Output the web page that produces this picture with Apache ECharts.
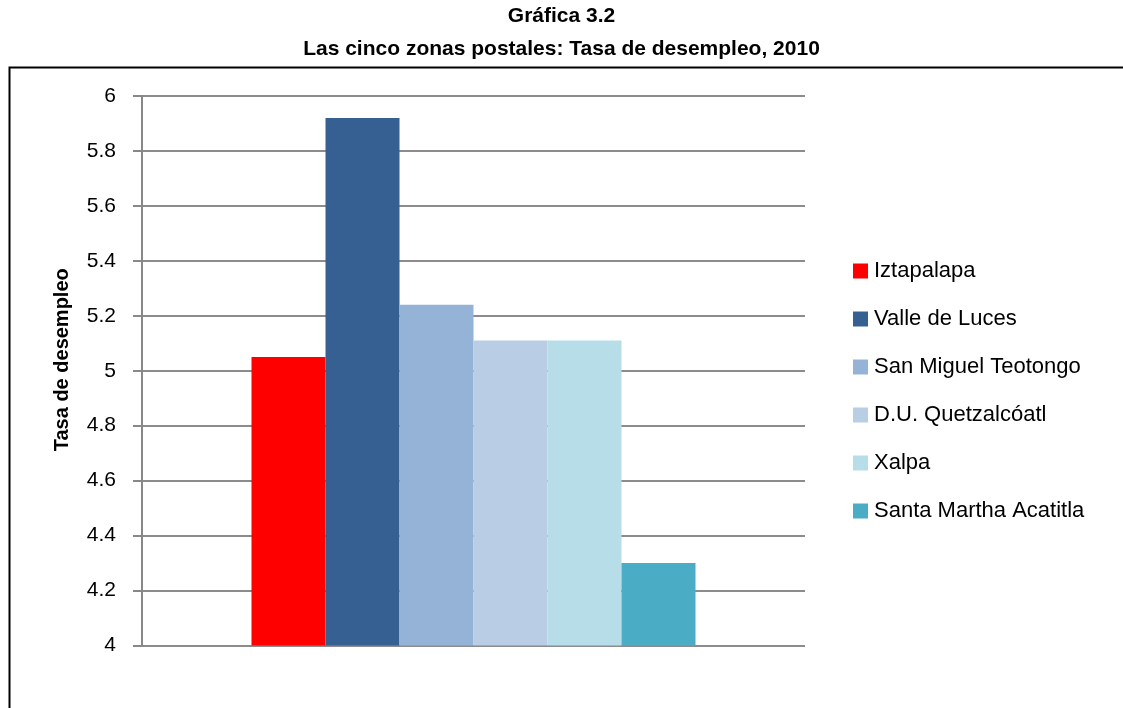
<!DOCTYPE html>
<html>
<head>
<meta charset="utf-8">
<script src="https://cdn.jsdelivr.net/npm/echarts@6/dist/echarts.min.js"></script>
<style>
  html, body { margin: 0; padding: 0; background: #fff; }
  #chart { width: 1123px; height: 708px; }
</style>
</head>
<body>
<div id="chart"></div>
<script>
// datos
var zonas = ['Iztapalapa', 'Valle de Luces', 'San Miguel Teotongo', 'D.U. Quetzalcóatl', 'Xalpa', 'Santa Martha Acatitla'];
var tasas = [5.05, 5.92, 5.24, 5.11, 5.11, 4.30];
var colores = ['#ff0000', '#376092', '#95b3d7', '#b9cde5', '#b7dde8', '#4bacc6'];
var categoria = ['2010'];

var fuente = 'Liberation Sans';

var chart = echarts.init(document.getElementById('chart'));

var series = zonas.map(function (z, i) {
  return {
    name: z,
    type: 'bar',
    data: [tasas[i]],
    barWidth: 74,
    barGap: '0%',
    itemStyle: { color: colores[i] }
  };
});

var option = {
  animation: false,
  textStyle: { fontFamily: fuente },
  title: {
    text: 'Gráfica 3.2\nLas cinco zonas postales: Tasa de desempleo, 2010',
    left: 'center',
    top: -5,
    textStyle: { fontFamily: fuente, fontSize: 21, fontWeight: 'bold', color: '#000', lineHeight: 33 }
  },
  graphic: [{
    type: 'rect',
    left: 7,
    top: 65,
    shape: { width: 1140, height: 700 },
    style: { fill: 'none', stroke: '#000', lineWidth: 2 },
    silent: true
  }],
  legend: {
    orient: 'vertical',
    left: 848,
    top: 255,
    itemWidth: 15,
    itemHeight: 15,
    itemGap: 26,
    icon: 'rect',
    textStyle: { fontFamily: fuente, fontSize: 22, color: '#000', padding: [0, 0, 0, 1] }
  },
  grid: { left: 142, right: 318, top: 96, bottom: 62.5 },
  xAxis: {
    type: 'category',
    data: categoria,
    axisLine: { show: false },
    axisTick: { show: false },
    axisLabel: { show: false }
  },
  yAxis: {
    type: 'value',
    min: 4,
    max: 6,
    interval: 0.2,
    name: 'Tasa de desempleo',
    nameLocation: 'middle',
    nameGap: 70,
    nameTextStyle: { fontFamily: fuente, fontSize: 20, fontWeight: 'bold', color: '#000', padding: [0, 0, 0, 22] },
    axisLine: { show: true, lineStyle: { color: '#888', width: 2 } },
    axisTick: { show: true, length: 9, lineStyle: { color: '#888', width: 2 } },
    axisLabel: {
      margin: 26,
      fontSize: 21,
      color: '#000',
      formatter: function (v) { return String(Math.round(v * 10) / 10); }
    },
    splitLine: { show: true, lineStyle: { color: '#8c8c8c', width: 2 } }
  },
  series: series
};

chart.setOption(option);
</script>
</body>
</html>
